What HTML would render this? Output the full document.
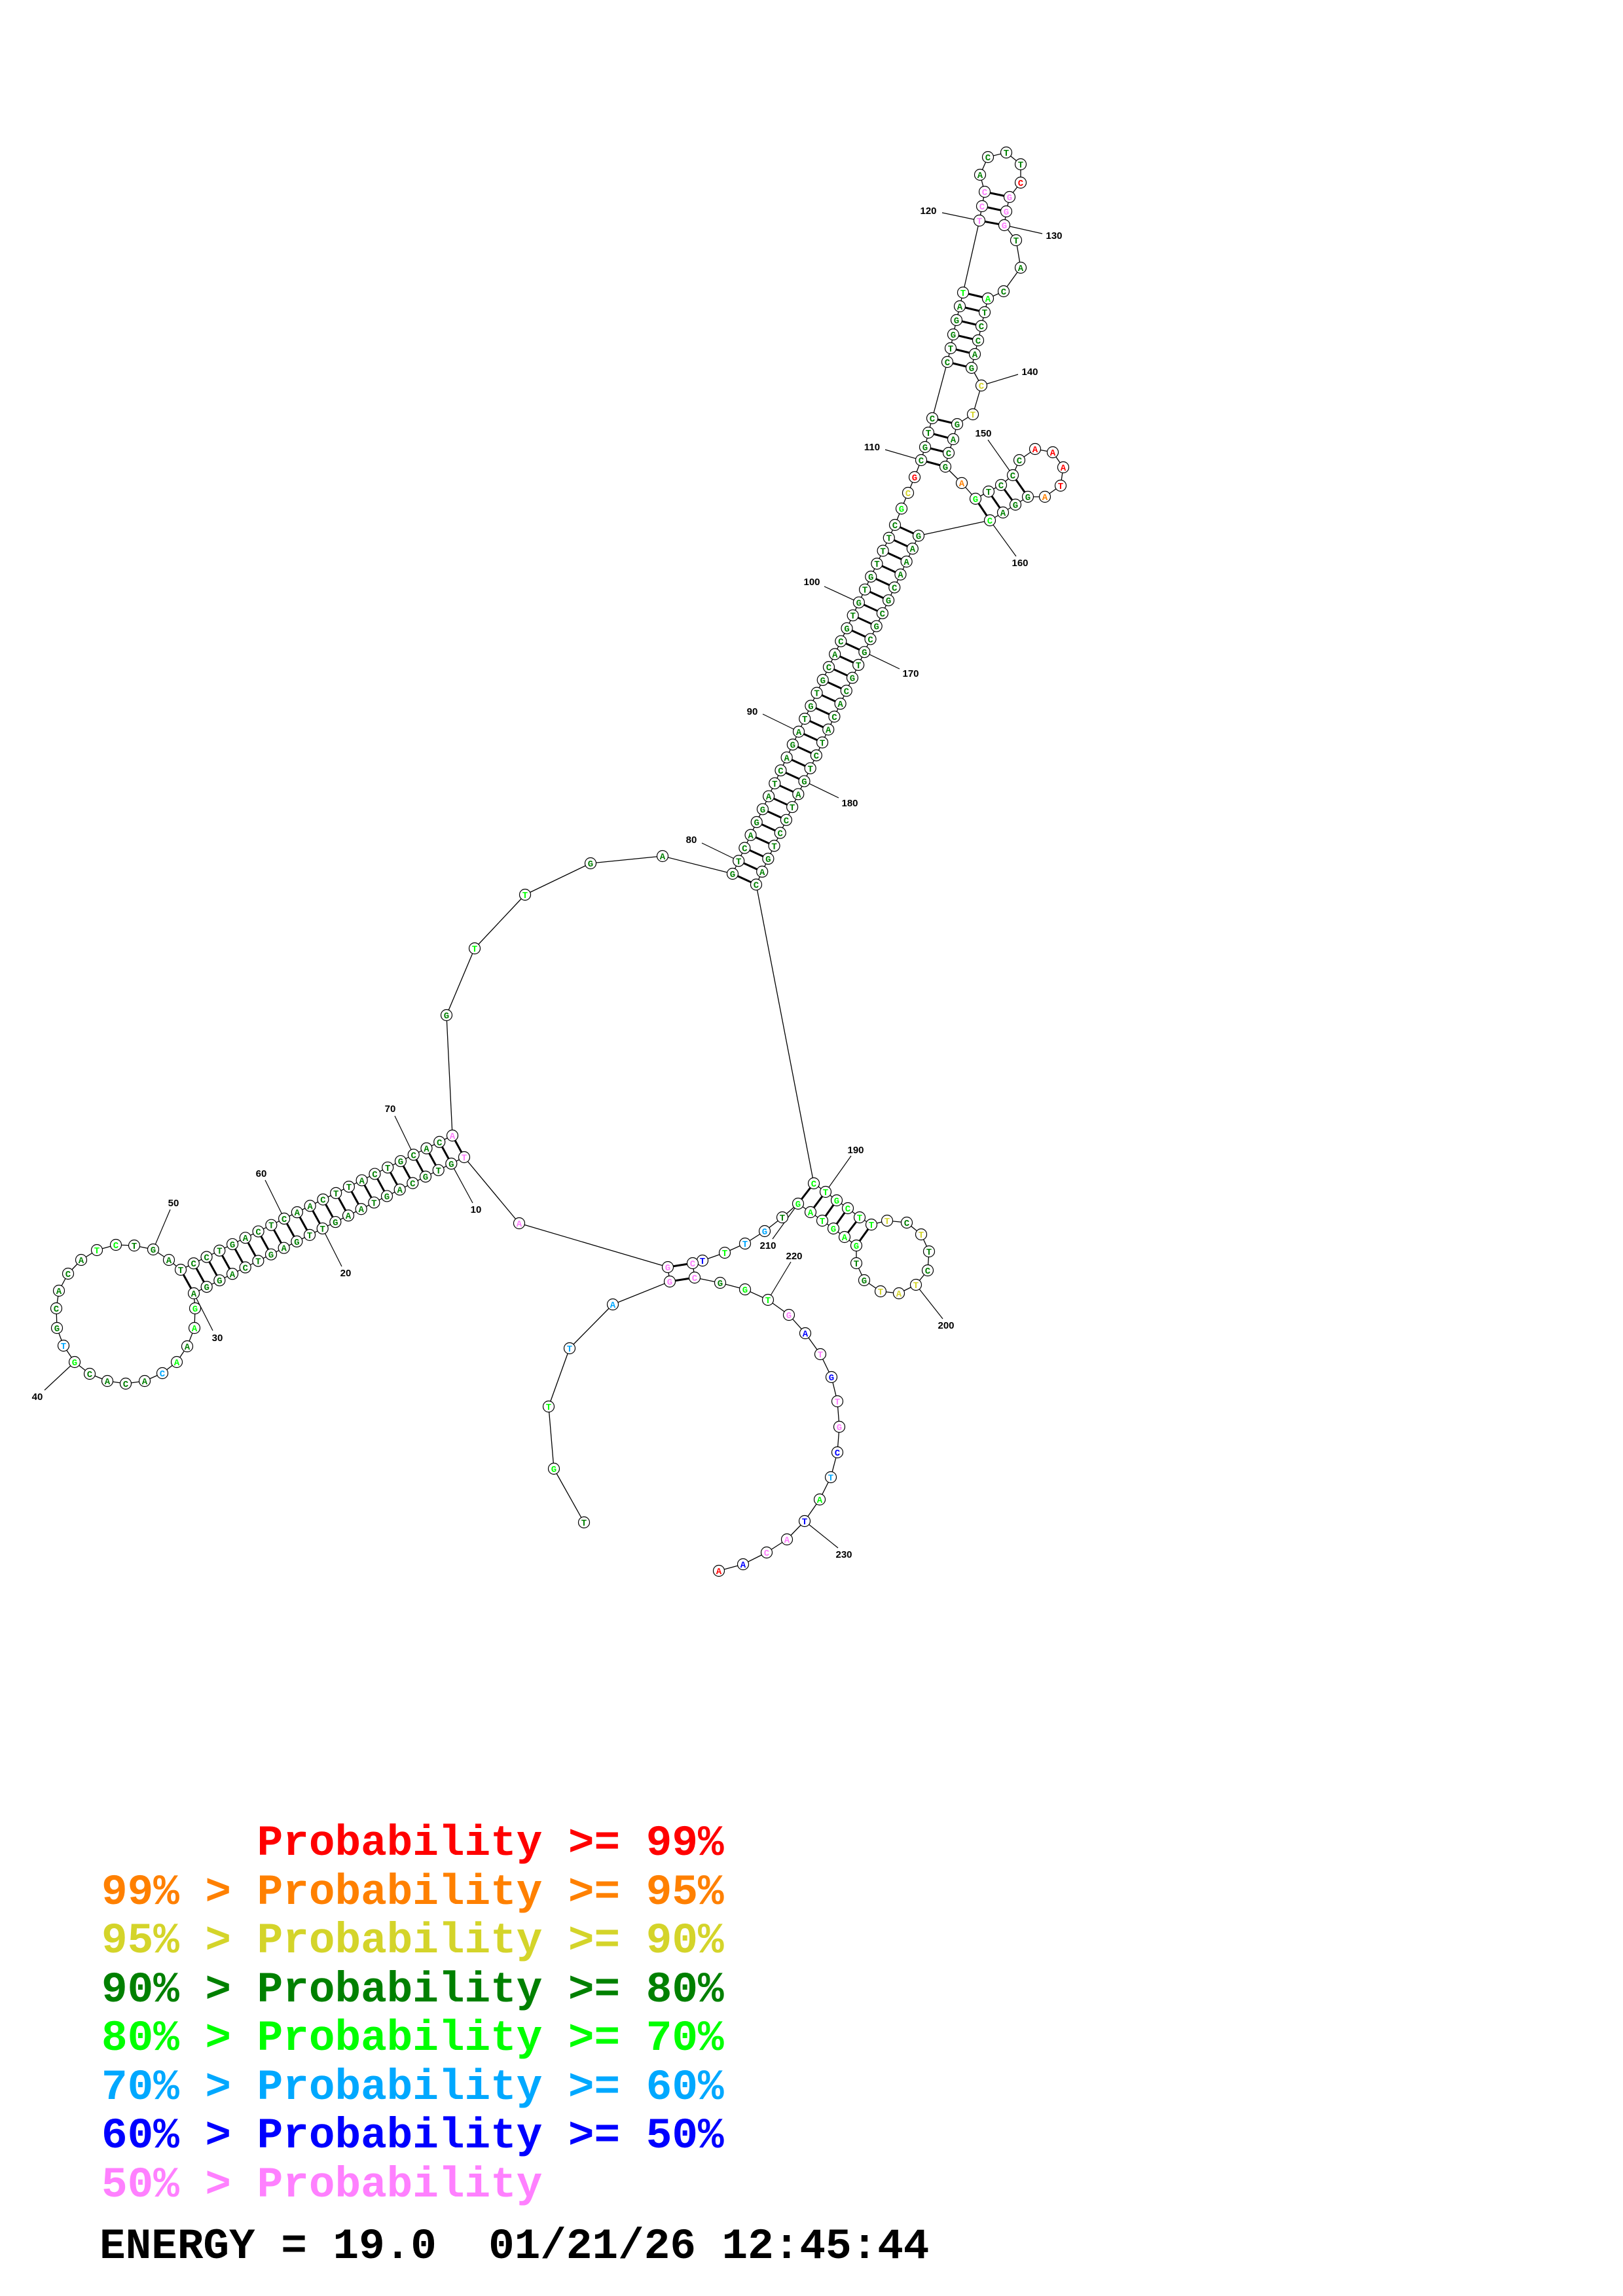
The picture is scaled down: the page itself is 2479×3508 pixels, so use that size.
<!DOCTYPE html>
<html><head><meta charset="utf-8">
<style>
html,body{margin:0;padding:0;background:#fff;}
svg{display:block;}
.nt{font-family:"Liberation Mono",monospace;font-weight:bold;font-size:14px;}
.lb{font-family:"Liberation Sans",sans-serif;font-weight:bold;font-size:15px;fill:#000;}
.lg{font-family:"Liberation Mono",monospace;font-weight:bold;font-size:66px;white-space:pre;}
</style></head>
<body>
<svg id="s" xmlns="http://www.w3.org/2000/svg" width="2479" height="3508" viewBox="0 0 2479 3508">
<rect width="2479" height="3508" fill="#fff"/>
<g id="bb"></g><g id="pr"></g><g id="ll"></g><g id="nd"></g><g id="lbs"></g>
<text class="lg" x="155" y="2834" fill="#ff0000" xml:space="preserve">      Probability &gt;= 99%</text>
<text class="lg" x="155" y="2909" fill="#ff8000" xml:space="preserve">99% &gt; Probability &gt;= 95%</text>
<text class="lg" x="155" y="2983" fill="#d4d42a" xml:space="preserve">95% &gt; Probability &gt;= 90%</text>
<text class="lg" x="155" y="3058" fill="#008000" xml:space="preserve">90% &gt; Probability &gt;= 80%</text>
<text class="lg" x="155" y="3132" fill="#00ff00" xml:space="preserve">80% &gt; Probability &gt;= 70%</text>
<text class="lg" x="155" y="3207" fill="#00a8ff" xml:space="preserve">70% &gt; Probability &gt;= 60%</text>
<text class="lg" x="155" y="3281" fill="#0000ff" xml:space="preserve">60% &gt; Probability &gt;= 50%</text>
<text class="lg" x="155" y="3356" fill="#ff80ff" xml:space="preserve">50% &gt; Probability</text>
<text class="lg" x="152" y="3450" fill="#000" xml:space="preserve">ENERGY = 19.0  01/21/26 12:45:44</text>
</svg>
<script>
(function(){
var C={d:'#008000',g:'#00ff00',p:'#ff80ff',r:'#ff0000',o:'#ff8000',y:'#d4d42a',l:'#00a8ff',b:'#0000ff'};
var N=[];
function S(i,x,y,l,c){N[i]=[x,y,l,c];}
var ex=[
[1,892,2326,'T','d'],[2,846,2244,'G','g'],[3,838,2149,'T','g'],[4,870,2060,'T','l'],[5,936,1993,'A','l'],
[6,1023,1958,'G','p'],[7,1020,1936,'G','p'],[8,793,1869,'A','p'],
[31,298,1999,'G','g'],[32,297,2029,'A','g'],[33,286,2057,'A','d'],[34,270,2081,'A','g'],[35,248,2098,'C','l'],
[36,221,2110,'A','d'],[37,192,2114,'C','d'],[38,164,2110,'A','d'],[39,137,2099,'C','d'],[40,114,2081,'G','g'],
[41,97,2056,'T','l'],[42,87,2029,'G','d'],[43,86,1999,'C','d'],[44,90,1972,'A','d'],[45,104,1946,'C','d'],
[46,124,1925,'A','d'],[47,148,1910,'T','g'],[48,177,1902,'C','g'],[49,205,1903,'T','d'],[50,234,1909,'G','d'],[51,258,1925,'A','d'],
[74,682,1551,'G','d'],[75,725,1449,'T','g'],[76,802,1367,'T','g'],[77,902,1319,'G','d'],[78,1012,1308,'A','d'],
[107,1377,777,'G','g'],[108,1387,753,'C','y'],[109,1397,729,'G','r'],[110,1407,703,'C','d'],[111,1413,683,'G','d'],
[112,1418,661,'T','d'],[113,1424,639,'C','d'],[114,1447,553,'C','d'],[115,1452,532,'T','d'],[116,1456,511,'G','d'],
[117,1461,489,'G','d'],[118,1466,468,'A','d'],[119,1471,447,'T','g'],[120,1496,337,'T','p'],[121,1500,315,'C','p'],
[122,1504,293,'C','p'],[123,1497,267,'A','d'],[124,1509,240,'C','d'],[125,1537,233,'T','d'],[126,1559,251,'T','d'],
[127,1559,279,'C','r'],[128,1542,301,'G','p'],[129,1537,323,'G','p'],[130,1534,344,'G','p'],[131,1552,367,'T','d'],
[132,1559,409,'A','d'],[133,1533,445,'C','d'],[134,1509,456,'A','g'],[135,1504,477,'T','d'],[136,1499,498,'C','d'],
[137,1494,520,'C','d'],[138,1489,541,'A','d'],[139,1484,562,'G','d'],[140,1499,589,'C','y'],[141,1486,633,'T','y'],
[142,1462,648,'G','d'],[143,1456,671,'A','d'],[144,1449,692,'C','d'],[145,1444,713,'G','d'],[146,1469,738,'A','o'],
[147,1490,762,'G','g'],[148,1510,751,'T','d'],[149,1529,741,'C','d'],[150,1547,726,'C','d'],[151,1557,703,'C','d'],
[152,1581,686,'A','r'],[153,1608,691,'A','r'],[154,1624,714,'A','r'],[155,1620,742,'T','r'],[156,1596,759,'A','o'],
[157,1570,759,'G','d'],[158,1551,771,'G','d'],[159,1532,783,'A','d'],[160,1512,795,'C','g'],
[189,1243,1808,'C','g'],[190,1261,1821,'T','g'],[191,1278,1834,'G','g'],[192,1295,1846,'C','g'],[193,1313,1860,'T','g'],
[194,1331,1871,'T','g'],[195,1355,1865,'T','y'],[196,1385,1868,'C','d'],[197,1407,1886,'T','y'],[198,1419,1912,'T','d'],
[199,1417,1941,'C','d'],[200,1399,1963,'T','y'],[201,1373,1976,'A','y'],[202,1345,1973,'T','y'],[203,1320,1956,'G','d'],
[204,1308,1930,'T','d'],[205,1308,1903,'G','g'],[206,1290,1890,'A','g'],[207,1273,1877,'G','g'],[208,1256,1865,'T','g'],
[209,1238,1852,'A','g'],[210,1219,1839,'G','g'],[211,1195,1860,'T','d'],[212,1168,1881,'G','l'],[213,1138,1900,'T','l'],
[214,1107,1914,'T','g'],[215,1073,1926,'T','b'],[216,1058,1930,'C','p'],[217,1061,1952,'C','p'],[218,1100,1960,'G','d'],
[219,1138,1970,'G','g'],[220,1173,1986,'T','g'],[221,1205,2009,'G','p'],[222,1230,2037,'A','b'],[223,1253,2069,'T','p'],
[224,1270,2104,'G','b'],[225,1279,2141,'T','p'],[226,1282,2180,'G','p'],[227,1279,2219,'C','b'],[228,1269,2257,'T','l'],
[229,1252,2291,'A','g'],[230,1229,2324,'T','b'],[231,1202,2352,'A','p'],[232,1171,2372,'C','p'],[233,1135,2390,'A','b'],[234,1098,2400,'A','r']
];
ex.forEach(function(e){S(e[0],e[1],e[2],e[3],e[4]);});
var s9="TGTGCAGTAAGTTGAGTCAGGA", s52="TCCTGACTCAACTTACTGCACA";
for(var k=0;k<22;k++){
 S(9+k,709+(296-709)*k/21,1768+(1976-1768)*k/21,s9[k],(k==0)?'p':'d');
 var j=73-k;
 S(j,691+(276-691)*k/21,1735+(1940-1735)*k/21,s52[j-52],(j==73)?'p':'d');
}
var s79="GTCAGGATCAGATGTGCACGTGTGTTTC", s161="GAAACGCGCGTGCACATCTGATCCTGAC";
for(var k=0;k<28;k++){
 var x=1119+(1367-1119)*k/27, y=1335+(802-1335)*k/27;
 S(79+k,x,y,s79[k],'d');
 var j=188-k;
 S(j,x+36,y+16.5,s161[j-161],'d');
}
var NS='http://www.w3.org/2000/svg';
function el(t,a,p){var e=document.createElementNS(NS,t);for(var q in a)e.setAttribute(q,a[q]);document.getElementById(p).appendChild(e);return e;}
function line(a,b,w,p){el('line',{x1:a[0],y1:a[1],x2:b[0],y2:b[1],stroke:'#000','stroke-width':w},p);}
for(var i=1;i<234;i++)line(N[i],N[i+1],1.3,'bb');
var pairs=[[6,217],[7,216]];
for(var k=0;k<22;k++)pairs.push([9+k,73-k]);
for(var k=0;k<28;k++)pairs.push([79+k,188-k]);
for(var k=0;k<4;k++)pairs.push([110+k,145-k]);
for(var k=0;k<6;k++)pairs.push([114+k,139-k]);
for(var k=0;k<3;k++)pairs.push([120+k,130-k]);
for(var k=0;k<4;k++)pairs.push([147+k,160-k]);
for(var k=0;k<6;k++)pairs.push([189+k,210-k]);
pairs.forEach(function(p){line(N[p[0]],N[p[1]],3,'pr');});
var L=[[10,727,1848,722,1838],[20,528,1945,522,1935],[30,332,2044,325,2033],[40,57,2134,68,2124],[50,265,1838,260,1848],
[60,399,1793,405,1803],[70,596,1694,603,1705],[80,1056,1283,1072,1288],[90,1149,1087,1165,1091],[100,1240,889,1259,896],
[110,1332,683,1352,687],[120,1418,322,1439,325],[130,1610,360,1592,357],[140,1573,568,1555,572],[150,1502,662,1509,672],
[160,1558,860,1552,850],[170,1391,1029,1374,1022],[180,1298,1227,1281,1219],[190,1307,1757,1300,1766],[200,1445,2025,1440,2015],
[210,1173,1903,1180,1893],[220,1213,1919,1208,1928],[230,1289,2375,1280,2365]];
L.forEach(function(l){
 line(N[l[0]],[l[3],l[4]],1.2,'ll');
 var t=el('text',{x:l[1],y:l[2]+5,'text-anchor':'middle','class':'lb'},'lbs');t.textContent=''+l[0];
});
for(var i=1;i<=234;i++){
 var n=N[i];
 el('circle',{cx:n[0],cy:n[1],r:8.5,fill:'#fff',stroke:'#000','stroke-width':1.2},'nd');
 var t=el('text',{x:n[0],y:n[1]+5,'text-anchor':'middle','class':'nt',fill:C[n[3]]},'nd');t.textContent=n[2];
}
})();
</script>
</body></html>
